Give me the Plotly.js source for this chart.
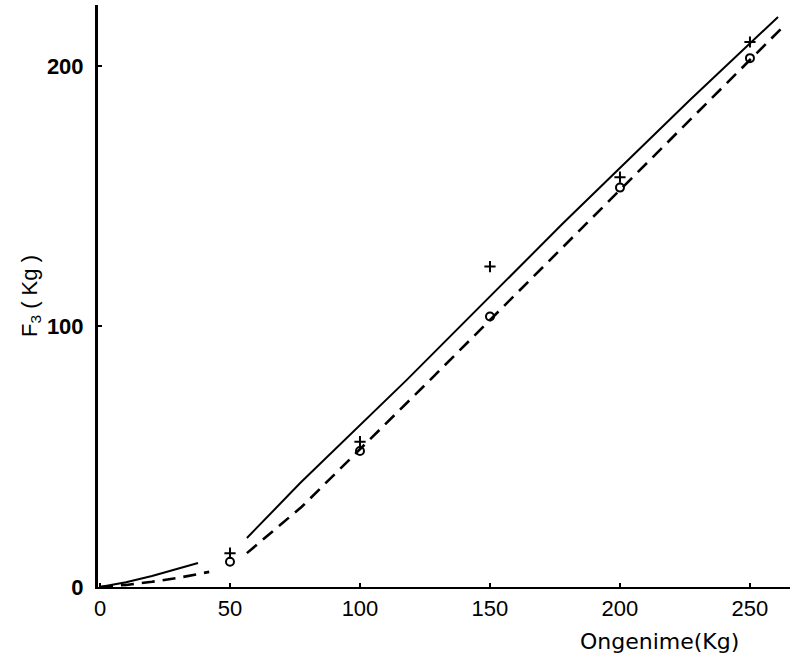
<!DOCTYPE html>
<html>
<head>
<meta charset="utf-8">
<script src="https://cdn.plot.ly/plotly-3.0.1.min.js"></script>
<style>html,body{margin:0;padding:0;background:#fff;}#chart{width:810px;height:666px;}</style>
</head>
<body>
<div id="chart"></div>
<script>
// Measured points
const loadX = [50, 100, 150, 200, 250];
const plusY = [13, 55.8, 123, 157.3, 209.2];
const circleY = [9.7, 52.2, 103.8, 153.3, 203];

// Solid curve (two pieces)
const solidLowX = [0, 10, 20, 30, 37.7];
const solidLowY = [0, 1.8, 4.2, 6.9, 9.2];
const solidHighX = [56.5, 77, 118, 178, 227, 260.8];
const solidHighY = [18.8, 39.9, 79.5, 139.5, 187, 218.8];

// Dashed curve (two pieces)
const dashLowX = [0, 10, 20, 30, 42];
const dashLowY = [0, 0.8, 2.0, 3.5, 5.8];
const dashHighX = [56.5, 77.6, 127.6, 173.7, 234.6, 262.7];
const dashHighY = [13, 30.8, 80.1, 126.2, 187, 215];

const xTicks = [0, 50, 100, 150, 200, 250];
const yTicks = [0, 100, 200];

const solidLine = {color: '#000', width: 2};
const dashLine = {color: '#000', width: 2.6, dash: '13px,8px'};

const traces = [
  {x: solidLowX, y: solidLowY, mode: 'lines', line: solidLine},
  {x: solidHighX, y: solidHighY, mode: 'lines', line: solidLine},
  {x: dashLowX, y: dashLowY, mode: 'lines', line: dashLine},
  {x: dashHighX, y: dashHighY, mode: 'lines', line: dashLine},
  {x: loadX, y: plusY, mode: 'markers', marker: {symbol: 'cross-thin', size: 8, line: {color: '#000', width: 2}}},
  {x: loadX, y: circleY, mode: 'markers', marker: {symbol: 'circle-open', size: 8, color: '#000', line: {color: '#000', width: 2}}}
];

const layout = {
  width: 810, height: 666,
  margin: {l: 98, r: 20, t: 5, b: 79},
  paper_bgcolor: '#fff', plot_bgcolor: '#fff',
  showlegend: false,
  xaxis: {
    range: [-0.77, 265.4], tickvals: xTicks, ticktext: xTicks.map(String),
    showgrid: false, zeroline: false, showline: true, linecolor: '#000', linewidth: 2,
    ticks: 'inside', ticklen: 4, tickwidth: 2, tickcolor: '#000',
    tickfont: {family: 'Liberation Sans', size: 22, color: '#000'}, ticklabelstandoff: 1
  },
  yaxis: {
    range: [0, 223.4], tickvals: yTicks, ticktext: yTicks.map(String),
    showgrid: false, zeroline: false, showline: true, linecolor: '#000', linewidth: 3,
    ticks: 'inside', ticklen: 4, tickwidth: 2, tickcolor: '#000',
    tickfont: {family: 'Liberation Sans', size: 22, color: '#000', weight: 'bold'}, ticklabelstandoff: 7,
    title: {text: 'F<sub>3</sub> ( Kg )', font: {family: 'Liberation Sans', size: 22, color: '#000'}, standoff: 4}
  },
  annotations: [
    {xref: 'paper', yref: 'paper', x: 0.812, y: -0.093, text: 'Ongenime(Kg)', showarrow: false,
     font: {family: 'DejaVu Sans', size: 22, color: '#000'}, xanchor: 'center', yanchor: 'middle'}
  ]
};

Plotly.newPlot('chart', traces, layout, {displayModeBar: false, staticPlot: true});
</script>
</body>
</html>
